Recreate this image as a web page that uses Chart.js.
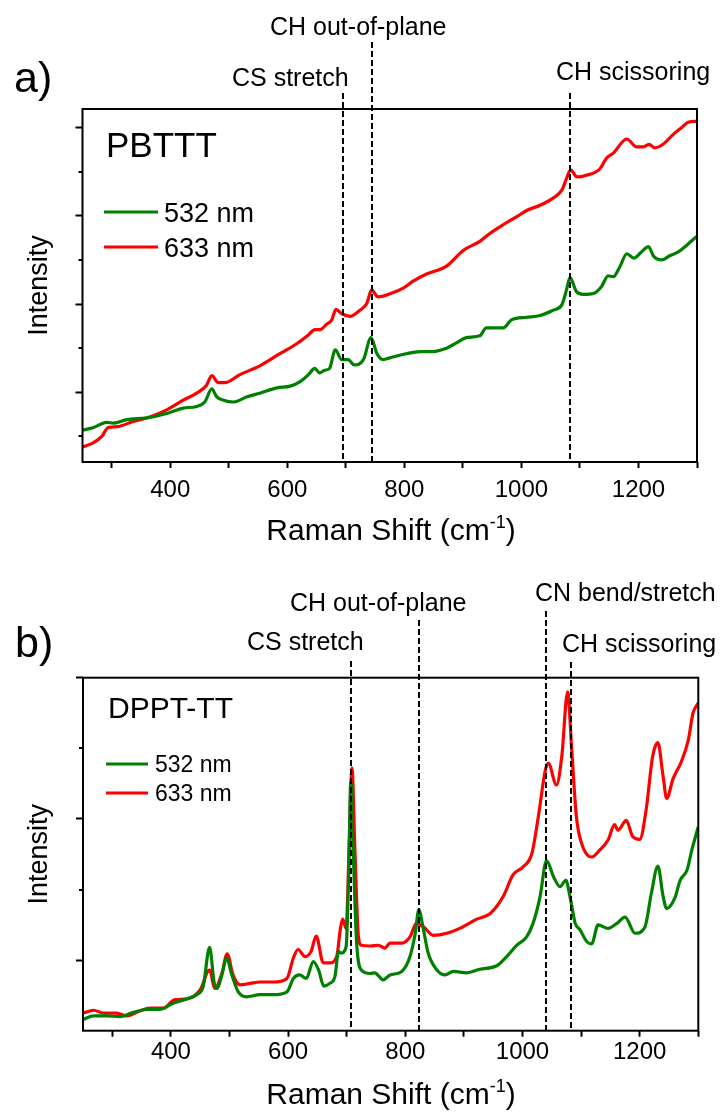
<!DOCTYPE html>
<html>
<head>
<meta charset="utf-8">
<script src="https://cdn.jsdelivr.net/npm/chart.js@4.4.1/dist/chart.umd.min.js"></script>
<style>
  html, body { margin: 0; padding: 0; background: #fff; }
  canvas { display: block; }
</style>
</head>
<body>
<canvas id="pbtttChart" width="724" height="556"></canvas>
<canvas id="dpptChart" width="724" height="556"></canvas>
<script>
// x ticks (Raman shift, cm-1), shared by both panels
const shiftTicks = [300, 400, 500, 600, 700, 800, 900, 1000, 1100, 1200, 1300];
const shiftLabels = [400, 600, 800, 1000, 1200];

// a) PBTTT
const pbtttShift532 = [250, 269, 291, 303, 326, 360, 394, 422, 445, 459, 471, 479, 491, 508, 531, 553, 582, 605, 622, 636,
  647, 655, 664, 672, 682, 693, 704, 714, 730, 743, 753, 764, 775, 792, 827, 844, 872, 889, 906, 929,
  940, 955, 969, 983, 1009, 1032, 1054, 1069, 1077, 1083, 1094, 1106, 1123, 1137, 1148, 1157, 1168, 1180, 1192, 1205,
  1217, 1226, 1240, 1254, 1268, 1283, 1300];
const pbttt532 = [0.36, 0.39, 0.45, 0.44, 0.48, 0.50, 0.55, 0.61, 0.63, 0.68, 0.83, 0.74, 0.70, 0.68, 0.74, 0.78, 0.84, 0.86, 0.91, 0.99,
  1.06, 1.01, 1.04, 1.06, 1.27, 1.16, 1.16, 1.10, 1.16, 1.41, 1.23, 1.16, 1.18, 1.21, 1.25, 1.25, 1.29, 1.35, 1.41, 1.43,
  1.52, 1.52, 1.52, 1.61, 1.64, 1.66, 1.72, 1.78, 1.95, 2.09, 1.93, 1.90, 1.91, 1.99, 2.11, 2.10, 2.21, 2.36, 2.31, 2.38,
  2.44, 2.33, 2.29, 2.34, 2.38, 2.46, 2.56];
const pbtttShift633 = [250, 269, 283, 294, 309, 337, 365, 394, 422, 445, 462, 471, 482, 494, 519, 553, 588, 616, 636, 647,
  656, 667, 676, 683, 693, 707, 724, 736, 744, 755, 781, 798, 815, 838, 872, 901, 929, 946, 969, 992,
  1009, 1032, 1054, 1069, 1077, 1084, 1095, 1111, 1134, 1145, 1157, 1180, 1197, 1208, 1218, 1228, 1242, 1259, 1274, 1285,
  1300];
const pbttt633 = [0.17, 0.22, 0.29, 0.39, 0.40, 0.46, 0.51, 0.59, 0.70, 0.78, 0.87, 0.98, 0.90, 0.90, 0.99, 1.09, 1.23, 1.34, 1.44, 1.50,
  1.50, 1.56, 1.61, 1.73, 1.68, 1.65, 1.72, 1.80, 1.95, 1.87, 1.92, 1.97, 2.05, 2.13, 2.22, 2.40, 2.50, 2.59, 2.69, 2.78,
  2.85, 2.91, 2.99, 3.08, 3.21, 3.31, 3.23, 3.25, 3.32, 3.44, 3.50, 3.66, 3.57, 3.57, 3.60, 3.56, 3.60, 3.71, 3.79, 3.85,
  3.86];
const pbtttBands = [695, 744, 1083];
const pbtttBandNames = ["CS stretch", "CH out-of-plane", "CH scissoring"];
const pbtttMajorTicks = [0.79, 1.79, 2.79, 3.79];
const pbtttMinorTicks = [0.29, 1.29, 2.29, 3.29];

// b) DPPT-TT
const dpptShift532 = [250, 268, 290, 313, 336, 359, 381, 404, 427, 444, 455, 466, 474, 479, 487, 495, 504, 515, 529, 552,
  575, 598, 609, 620, 631, 643, 652, 661, 671, 680, 686, 691, 699, 703, 707, 711, 717, 725, 740, 748,
  762, 774, 794, 808, 817, 823, 831, 839, 854, 868, 882, 905, 927, 956, 973, 990, 1007, 1018, 1030, 1041,
  1053, 1064, 1074, 1081, 1090, 1098, 1110, 1118, 1129, 1146, 1161, 1175, 1192, 1209, 1220, 1231, 1240, 1246, 1260, 1269,
  1281, 1289, 1300];
const dppt532 = [0.16, 0.21, 0.21, 0.20, 0.26, 0.30, 0.30, 0.39, 0.45, 0.51, 0.62, 1.18, 0.67, 0.60, 0.79, 1.03, 0.79, 0.55, 0.48, 0.51,
  0.51, 0.55, 0.74, 0.79, 0.74, 0.98, 0.86, 0.63, 0.67, 0.77, 1.12, 1.10, 1.19, 2.09, 3.53, 2.56, 1.24, 0.86, 0.81, 0.82,
  0.72, 0.79, 0.84, 1.05, 1.38, 1.71, 1.43, 1.10, 0.86, 0.79, 0.84, 0.82, 0.87, 0.92, 1.05, 1.21, 1.33, 1.52, 1.90, 2.41,
  2.18, 2.04, 2.13, 1.90, 1.52, 1.43, 1.26, 1.23, 1.50, 1.45, 1.52, 1.61, 1.38, 1.47, 1.95, 2.33, 1.90, 1.73, 1.88, 2.13,
  2.28, 2.56, 2.89];
const dpptShift633 = [250, 268, 285, 307, 325, 347, 364, 387, 407, 427, 450, 466, 475, 487, 496, 506, 518, 535, 552, 575,
  598, 609, 617, 629, 639, 648, 660, 671, 683, 689, 693, 699, 704, 709, 714, 720, 725, 740, 754, 765,
  774, 794, 808, 819, 831, 848, 871, 893, 922, 945, 967, 984, 1001, 1016, 1027, 1039, 1044, 1058, 1067, 1077,
  1084, 1092, 1101, 1118, 1132, 1146, 1157, 1163, 1177, 1188, 1200, 1211, 1222, 1231, 1240, 1246, 1257, 1271, 1283, 1291,
  1300];
const dppt633 = [0.25, 0.29, 0.25, 0.25, 0.21, 0.28, 0.32, 0.32, 0.44, 0.45, 0.58, 0.86, 0.60, 0.81, 1.09, 0.79, 0.65, 0.67, 0.69, 0.69,
  0.74, 1.03, 1.15, 1.05, 1.12, 1.34, 0.96, 0.96, 1.05, 1.43, 1.58, 1.45, 2.56, 3.72, 2.56, 1.33, 1.21, 1.20, 1.21, 1.17,
  1.24, 1.24, 1.33, 1.52, 1.47, 1.35, 1.38, 1.45, 1.58, 1.66, 1.90, 2.21, 2.32, 2.51, 3.03, 3.69, 3.79, 3.48, 3.88, 4.80,
  3.98, 3.03, 2.65, 2.46, 2.56, 2.70, 2.92, 2.84, 2.98, 2.75, 2.71, 3.13, 3.88, 4.08, 3.60, 3.29, 3.57, 3.81, 4.12, 4.50,
  4.64];
const dpptBands = [707, 823, 1040, 1082];
const dpptBandNames = ["CS stretch", "CH out-of-plane", "CN bend/stretch", "CH scissoring"];
const dpptMajorTicks = [1, 3, 5];
const dpptMinorTicks = [2, 4];

const laserNames = ["532 nm", "633 nm"];
const GREEN = "#008000";
const RED = "#ff0000";
const FONT = "'Liberation Sans', Arial, sans-serif";

function font(size) {
  return `${size}px ${FONT}`;
}

function toPoints(xs, ys) {
  return xs.map((x, i) => ({ x, y: ys[i] }));
}

function drawShiftTitle(ctx, cx, baseline) {
  const main = "Raman Shift (cm";
  const sup = "-1";
  const close = ")";
  ctx.font = font(30);
  const w1 = ctx.measureText(main).width;
  const w3 = ctx.measureText(close).width;
  ctx.font = font(18);
  const w2 = ctx.measureText(sup).width;
  let x = cx - (w1 + w2 + w3) / 2;
  ctx.textAlign = "left";
  ctx.textBaseline = "alphabetic";
  ctx.font = font(30);
  ctx.fillText(main, x, baseline);
  x += w1;
  ctx.font = font(18);
  ctx.fillText(sup, x, baseline - 12);
  x += w2;
  ctx.font = font(30);
  ctx.fillText(close, x, baseline);
}

// axes box, minor ticks, tick labels, band markers, labels and legend
const panelDecor = {
  id: "panelDecor",
  afterDraw(chart, args, o) {
    const { ctx, chartArea: a, scales } = chart;
    ctx.save();
    ctx.strokeStyle = "#000";
    ctx.fillStyle = "#000";
    ctx.lineWidth = 2;

    o.minorTicks.forEach((v) => {
      const y = Math.round(scales.y.getPixelForValue(v));
      ctx.beginPath();
      ctx.moveTo(a.left - 4, y);
      ctx.lineTo(a.left, y);
      ctx.stroke();
    });

    ctx.setLineDash([6, 3]);
    o.bands.forEach((w, i) => {
      const x = Math.round(scales.x.getPixelForValue(w));
      ctx.beginPath();
      ctx.moveTo(x, o.bandText[i].top);
      ctx.lineTo(x, a.bottom);
      ctx.stroke();
    });
    ctx.setLineDash([]);

    ctx.strokeRect(a.left, a.top, a.right - a.left, a.bottom - a.top);

    ctx.textAlign = "center";
    ctx.textBaseline = "middle";
    ctx.font = font(24);
    shiftLabels.forEach((v) => {
      ctx.fillText(String(v), scales.x.getPixelForValue(v), o.tickLabelY);
    });

    ctx.textAlign = "left";
    ctx.textBaseline = "alphabetic";
    ctx.font = font(25);
    o.bandNames.forEach((name, i) => {
      ctx.fillText(name, o.bandText[i].x, o.bandText[i].y);
    });

    ctx.font = font(43);
    ctx.fillText(o.letter, o.letterPos[0], o.letterPos[1]);

    ctx.font = font(o.sample.size);
    ctx.fillText(o.sample.text, o.sample.x, o.sample.y);

    const lg = o.legend;
    [GREEN, RED].forEach((color, i) => {
      ctx.strokeStyle = color;
      ctx.lineWidth = 3;
      ctx.beginPath();
      ctx.moveTo(lg.x1, lg.y[i]);
      ctx.lineTo(lg.x2, lg.y[i]);
      ctx.stroke();
      ctx.font = font(lg.size);
      ctx.fillText(laserNames[i], lg.textX, lg.y[i] + lg.size * 0.36);
    });

    ctx.save();
    ctx.translate(40, (a.top + a.bottom) / 2);
    ctx.rotate(-Math.PI / 2);
    ctx.textAlign = "center";
    ctx.textBaseline = "middle";
    ctx.font = font(27);
    ctx.fillText("Intensity", 0, 0);
    ctx.restore();

    drawShiftTitle(ctx, 391, o.titleBaseline);
    ctx.restore();
  },
};

function makePanel(canvasId, p) {
  const canvas = document.getElementById(canvasId);
  return new Chart(canvas.getContext("2d"), {
    type: "line",
    data: {
      datasets: [
        { label: laserNames[0], data: toPoints(p.shift532, p.int532), borderColor: GREEN },
        { label: laserNames[1], data: toPoints(p.shift633, p.int633), borderColor: RED },
      ],
    },
    options: {
      responsive: false,
      animation: false,
      devicePixelRatio: 1,
      layout: { padding: { left: 0, top: p.area.top, right: 724 - p.area.right, bottom: 0 } },
      elements: {
        point: { radius: 0 },
        line: { borderWidth: 3.2, cubicInterpolationMode: "monotone", borderJoinStyle: "round" },
      },
      plugins: {
        legend: { display: false },
        tooltip: { enabled: false },
        panelDecor: {
          minorTicks: p.minorTicks,
          bands: p.bands,
          bandNames: p.bandNames,
          bandText: p.bandText,
          letter: p.letter,
          letterPos: p.letterPos,
          sample: p.sample,
          legend: p.legend,
          tickLabelY: p.tickLabelY,
          titleBaseline: p.titleBaseline,
        },
      },
      scales: {
        x: {
          type: "linear",
          min: 250,
          max: 1300,
          afterBuildTicks: (scale) => {
            scale.ticks = shiftTicks.map((value) => ({ value }));
          },
          afterFit: (scale) => {
            scale.height = 556 - p.area.bottom;
          },
          border: { display: false },
          grid: { drawOnChartArea: false, drawTicks: true, tickLength: 6, tickWidth: 2, tickColor: "#000" },
          ticks: { display: false },
        },
        y: {
          type: "linear",
          min: p.yMin,
          max: p.yMax,
          afterBuildTicks: (scale) => {
            scale.ticks = p.majorTicks.map((value) => ({ value }));
          },
          afterFit: (scale) => {
            scale.width = p.area.left;
          },
          border: { display: false },
          grid: { drawOnChartArea: false, drawTicks: true, tickLength: 7, tickWidth: 2, tickColor: "#000" },
          ticks: { display: false },
        },
      },
    },
    plugins: [panelDecor],
  });
}

makePanel("pbtttChart", {
  shift532: pbtttShift532, int532: pbttt532,
  shift633: pbtttShift633, int633: pbttt633,
  bands: pbtttBands, bandNames: pbtttBandNames,
  majorTicks: pbtttMajorTicks, minorTicks: pbtttMinorTicks,
  yMin: 0, yMax: 4,
  area: { left: 82.5, top: 109, right: 697, bottom: 462 },
  tickLabelY: 490,
  titleBaseline: 540,
  letter: "a)", letterPos: [14, 92],
  sample: { text: "PBTTT", x: 106, y: 157, size: 35 },
  legend: { x1: 104, x2: 158, y: [212, 247], textX: 164, size: 27 },
  bandText: [
    { x: 232, y: 86, top: 93 },
    { x: 270, y: 35, top: 42 },
    { x: 556, y: 80, top: 93 },
  ],
});

makePanel("dpptChart", {
  shift532: dpptShift532, int532: dppt532,
  shift633: dpptShift633, int633: dppt633,
  bands: dpptBands, bandNames: dpptBandNames,
  majorTicks: dpptMajorTicks, minorTicks: dpptMinorTicks,
  yMin: 0, yMax: 5,
  area: { left: 83, top: 121.7, right: 698.3, bottom: 474.7 },
  tickLabelY: 496,
  titleBaseline: 548,
  letter: "b)", letterPos: [15, 101],
  sample: { text: "DPPT-TT", x: 108, y: 162, size: 30 },
  legend: { x1: 106, x2: 148, y: [208, 237], textX: 155, size: 23 },
  bandText: [
    { x: 247, y: 94, top: 105 },
    { x: 290, y: 55, top: 64 },
    { x: 535, y: 45, top: 55 },
    { x: 562, y: 96, top: 106 },
  ],
});
</script>
</body>
</html>
